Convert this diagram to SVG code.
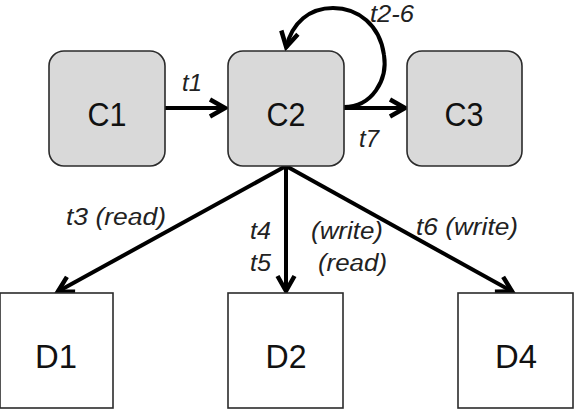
<svg xmlns="http://www.w3.org/2000/svg" width="580" height="416" viewBox="0 0 580 416">
<style>
.cbox{fill:#d9d9d9;stroke:#2b2b2b;stroke-width:1.6}
.dbox{fill:#ffffff;stroke:#2b2b2b;stroke-width:1.6}
.big{font-family:"Liberation Sans",Arial,sans-serif;font-size:34px;fill:#111;text-anchor:middle}
.lab{font-family:"Liberation Sans",Arial,sans-serif;font-size:23.5px;font-style:italic;fill:#222}
.edge{fill:none;stroke:#000;stroke-width:4}
</style>
<defs>
<marker id="arr" markerUnits="userSpaceOnUse" markerWidth="30" markerHeight="30" viewBox="-20 -15 30 30" refX="1" refY="0" orient="auto" overflow="visible">
<path d="M-15,-8.5 L0,0 L-15,8.5" fill="none" stroke="#000" stroke-width="4.5" stroke-linejoin="miter"/>
</marker>
</defs>
<rect width="580" height="416" fill="#ffffff"/>
<g id="connectors">
<line class="edge" x1="165" y1="108" x2="226" y2="108" marker-end="url(#arr)"/>
<line class="edge" x1="344" y1="108" x2="406" y2="108" marker-end="url(#arr)"/>
<path class="edge" d="M344,107 C372,107 388,80 384,55 C380,25 358,8 333,8 C310,8 292,22 286,48" marker-end="url(#arr)"/>
<line class="edge" x1="286" y1="166" x2="57" y2="292" marker-end="url(#arr)"/>
<line class="edge" x1="286" y1="166" x2="286" y2="292" marker-end="url(#arr)"/>
<line class="edge" x1="286" y1="166" x2="513" y2="292" marker-end="url(#arr)"/>
<text class="lab" x="182" y="91" textLength="20" lengthAdjust="spacingAndGlyphs">t1</text>
<text class="lab" x="359" y="147" textLength="20" lengthAdjust="spacingAndGlyphs">t7</text>
<text class="lab" x="370" y="22" textLength="44" lengthAdjust="spacingAndGlyphs">t2-6</text>
<text class="lab" x="66" y="225" textLength="100" lengthAdjust="spacingAndGlyphs">t3 (read)</text>
<text class="lab" x="250" y="239" textLength="21" lengthAdjust="spacingAndGlyphs">t4</text>
<text class="lab" x="250" y="271" textLength="21" lengthAdjust="spacingAndGlyphs">t5</text>
<text class="lab" x="311" y="239" textLength="72" lengthAdjust="spacingAndGlyphs">(write)</text>
<text class="lab" x="318" y="271" textLength="69" lengthAdjust="spacingAndGlyphs">(read)</text>
<text class="lab" x="416" y="235" textLength="102" lengthAdjust="spacingAndGlyphs">t6 (write)</text>
</g>
<g id="C1"><rect class="cbox" x="49" y="51" width="116" height="115" rx="15"/><text class="big" x="107" y="126" textLength="39" lengthAdjust="spacingAndGlyphs">C1</text></g>
<g id="C2"><rect class="cbox" x="228" y="51" width="116" height="115" rx="15"/><text class="big" x="286" y="126" textLength="39" lengthAdjust="spacingAndGlyphs">C2</text></g>
<g id="C3"><rect class="cbox" x="407" y="51" width="115" height="115" rx="15"/><text class="big" x="464" y="126" textLength="39" lengthAdjust="spacingAndGlyphs">C3</text></g>
<g id="D1"><rect class="dbox" x="0" y="293" width="113" height="115"/><text class="big" x="56" y="368" textLength="42" lengthAdjust="spacingAndGlyphs">D1</text></g>
<g id="D2"><rect class="dbox" x="228" y="293" width="115" height="115"/><text class="big" x="286" y="368" textLength="41" lengthAdjust="spacingAndGlyphs">D2</text></g>
<g id="D4"><rect class="dbox" x="458" y="293" width="115" height="115"/><text class="big" x="516" y="368" textLength="42" lengthAdjust="spacingAndGlyphs">D4</text></g>
</svg>
